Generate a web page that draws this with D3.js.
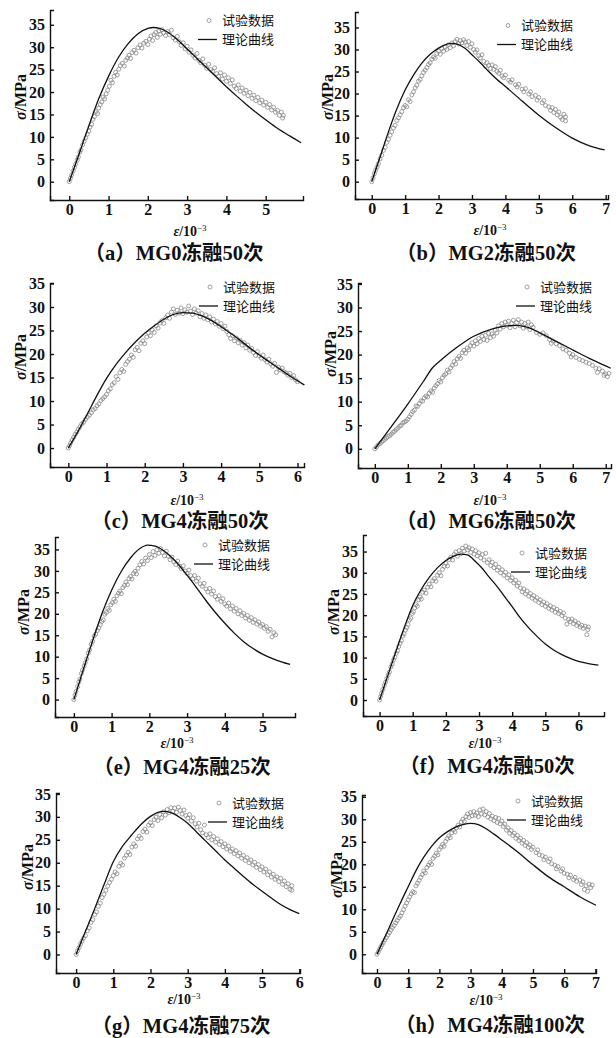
<!DOCTYPE html>
<html>
<head>
<meta charset="utf-8">
<script src="https://cdn.jsdelivr.net/npm/d3@7/dist/d3.min.js"></script>
<style>
body { margin: 0; background: #fff; }
svg { display: block; }
</style>
</head>
<body>
<script>
// ---- data: test points [strain(10^-3), stress(MPa)] and theory curves ----
const dataA = [[0,0],[0.03,0.8],[0.06,1.5],[0.1,2.4],[0.13,3.2],[0.16,3.9],[0.2,4.8],[0.23,5.5],[0.27,6.6],[0.3,7.1],[0.34,8.2],[0.38,9.0],[0.42,9.8],[0.46,10.6],[0.5,11.3],[0.53,12.2],[0.57,12.8],[0.6,13.9],[0.64,14.5],[0.68,15.6],[0.72,15.2],[0.75,16.4],[0.79,17.2],[0.83,17.8],[0.86,18.9],[0.9,18.5],[0.94,19.6],[0.98,20.4],[1.02,21.3],[1.06,22.6],[1.1,22.1],[1.14,23.5],[1.18,24.4],[1.22,23.8],[1.26,25.1],[1.3,25.9],[1.35,26.4],[1.4,25.8],[1.44,27.1],[1.48,27.6],[1.52,28.2],[1.56,27.5],[1.6,28.8],[1.65,29.3],[1.7,28.7],[1.75,29.9],[1.8,30.5],[1.85,29.8],[1.9,30.9],[1.95,31.3],[2.0,30.6],[2.04,31.8],[2.08,32.5],[2.12,31.5],[2.16,32.8],[2.2,33.3],[2.24,32.2],[2.28,33.6],[2.32,32.9],[2.36,33.9],[2.4,33.2],[2.45,32.6],[2.5,33.5],[2.55,32.8],[2.6,33.8],[2.65,32.1],[2.7,31.6],[2.75,32.4],[2.8,31.2],[2.85,30.4],[2.9,31.0],[2.95,29.6],[3.0,30.2],[3.05,28.9],[3.1,29.4],[3.15,28.2],[3.2,27.6],[3.25,28.6],[3.3,27.1],[3.35,26.5],[3.4,27.4],[3.45,26.0],[3.5,25.3],[3.55,26.2],[3.6,25.0],[3.65,24.6],[3.7,25.4],[3.75,24.1],[3.8,23.5],[3.85,24.3],[3.9,22.9],[3.95,23.8],[4.0,22.4],[4.05,23.2],[4.1,21.9],[4.15,22.7],[4.2,21.3],[4.25,20.8],[4.3,21.6],[4.35,20.2],[4.4,20.9],[4.45,19.7],[4.5,20.4],[4.55,19.2],[4.6,19.9],[4.65,18.6],[4.7,19.3],[4.75,18.1],[4.8,18.8],[4.85,17.6],[4.9,18.2],[4.95,17.1],[5.0,17.7],[5.05,16.6],[5.1,17.2],[5.15,16.0],[5.2,16.6],[5.25,15.5],[5.3,15.9],[5.35,14.8],[5.4,15.5],[5.43,14.2],[5.45,14.8]];
const curveA = [[0,0],[0.25,6.2],[0.5,12.5],[0.75,18.5],[1,23.5],[1.25,27.7],[1.5,30.8],[1.75,33],[2,34.2],[2.15,34.4],[2.3,34.2],[2.5,33.4],[2.75,31.7],[3,29.6],[3.25,27.5],[3.5,25.4],[3.75,23.3],[4,21.2],[4.25,19.2],[4.5,17.3],[4.75,15.5],[5,13.8],[5.25,12.2],[5.5,10.8],[5.75,9.5],[5.9,8.7]];

const dataB = [[0,0],[0.04,0.9],[0.08,1.8],[0.12,2.6],[0.16,3.3],[0.2,4.1],[0.25,5.2],[0.3,6.0],[0.35,7.1],[0.4,7.8],[0.45,8.9],[0.5,9.6],[0.55,10.5],[0.6,11.3],[0.65,12.2],[0.7,12.8],[0.75,13.9],[0.8,14.5],[0.85,15.2],[0.9,15.9],[0.95,16.8],[1.0,17.3],[1.05,17.0],[1.1,18.6],[1.15,18.2],[1.2,19.7],[1.25,20.4],[1.3,21.3],[1.35,21.9],[1.4,22.8],[1.45,23.2],[1.5,24.0],[1.55,24.8],[1.6,25.3],[1.65,25.9],[1.7,26.6],[1.75,27.0],[1.8,27.8],[1.85,28.3],[1.9,28.0],[1.95,29.1],[2.0,29.6],[2.05,28.9],[2.1,30.2],[2.15,29.6],[2.2,30.5],[2.25,30.0],[2.3,31.1],[2.35,30.4],[2.4,31.5],[2.45,30.8],[2.5,31.8],[2.55,32.3],[2.6,31.3],[2.65,32.0],[2.7,31.5],[2.75,32.2],[2.8,31.7],[2.85,30.9],[2.9,31.8],[2.95,30.5],[3.0,31.3],[3.05,30.0],[3.1,29.4],[3.15,29.9],[3.2,28.6],[3.25,28.1],[3.3,28.8],[3.35,27.3],[3.4,26.2],[3.45,27.0],[3.5,26.4],[3.55,25.7],[3.6,26.5],[3.65,25.5],[3.7,26.1],[3.75,25.0],[3.8,24.6],[3.85,25.3],[3.9,24.0],[3.95,23.6],[4.0,24.2],[4.1,23.0],[4.15,22.6],[4.2,23.1],[4.3,22.0],[4.35,21.5],[4.4,22.1],[4.5,21.0],[4.55,20.4],[4.6,21.1],[4.7,19.9],[4.75,20.4],[4.8,19.3],[4.9,19.6],[4.95,18.5],[5.0,19.1],[5.1,17.9],[5.15,18.4],[5.2,17.3],[5.3,17.0],[5.35,16.2],[5.4,16.8],[5.45,15.7],[5.5,16.4],[5.55,15.2],[5.6,15.8],[5.65,14.6],[5.7,14.1],[5.75,15.3],[5.8,13.8],[5.8,14.7]];
const curveB = [[0,0],[0.25,5.6],[0.5,11.3],[0.75,16.5],[1,20.8],[1.25,24.2],[1.5,26.9],[1.75,28.9],[2,30.3],[2.25,31.2],[2.4,31.4],[2.6,31.1],[2.8,30.2],[3,28.8],[3.25,27],[3.5,25],[3.75,23.2],[4,21.6],[4.5,18.3],[5,15.1],[5.5,12.3],[6,9.9],[6.5,8.2],[6.97,7.2]];

const dataC = [[0,0],[0.03,0.5],[0.06,1.1],[0.1,1.7],[0.14,2.3],[0.18,2.9],[0.22,3.4],[0.26,4.0],[0.3,4.5],[0.35,5.1],[0.4,5.5],[0.45,6.1],[0.5,6.6],[0.55,7.0],[0.6,7.5],[0.65,8.1],[0.7,8.4],[0.75,9.0],[0.8,9.4],[0.85,10.1],[0.9,10.5],[0.95,10.9],[1.0,11.4],[1.05,12.2],[1.1,12.6],[1.15,13.5],[1.2,13.9],[1.25,15.2],[1.3,14.6],[1.35,16.0],[1.4,16.7],[1.45,16.3],[1.5,17.8],[1.55,18.4],[1.6,18.9],[1.65,19.8],[1.7,19.3],[1.75,20.9],[1.8,21.4],[1.85,20.7],[1.9,22.3],[1.95,22.8],[2.0,22.2],[2.05,23.6],[2.1,24.5],[2.15,23.9],[2.2,25.1],[2.25,24.6],[2.3,26.0],[2.35,25.5],[2.4,26.6],[2.45,27.1],[2.5,26.5],[2.55,27.7],[2.6,28.3],[2.65,27.6],[2.7,28.9],[2.75,29.6],[2.8,28.4],[2.85,29.3],[2.9,28.7],[2.95,29.8],[3.0,28.6],[3.05,29.4],[3.1,28.9],[3.15,30.2],[3.2,29.1],[3.25,28.4],[3.3,29.6],[3.35,28.7],[3.4,29.2],[3.45,27.9],[3.5,28.6],[3.55,27.6],[3.6,28.3],[3.65,27.3],[3.7,27.9],[3.75,26.8],[3.8,27.4],[3.85,26.4],[3.9,26.9],[3.95,25.9],[4.0,26.5],[4.05,25.4],[4.1,25.9],[4.15,24.8],[4.2,24.1],[4.25,23.3],[4.3,23.9],[4.35,22.8],[4.4,23.4],[4.45,22.4],[4.5,22.9],[4.55,21.9],[4.6,22.4],[4.65,21.3],[4.7,21.9],[4.75,20.8],[4.8,21.2],[4.85,20.3],[4.9,19.7],[4.95,20.5],[5.0,19.6],[5.05,19.1],[5.1,19.8],[5.15,18.8],[5.2,18.3],[5.25,18.9],[5.3,17.9],[5.35,17.4],[5.4,18.0],[5.45,16.1],[5.5,17.2],[5.55,16.6],[5.6,17.0],[5.65,16.2],[5.7,16.0],[5.75,15.5],[5.8,15.9],[5.85,15.0],[5.9,15.4],[5.95,14.5],[6.0,14.1]];
const curveC = [[0,0],[0.25,3.5],[0.5,7.3],[0.75,11.2],[1,14.8],[1.25,17.8],[1.5,20.3],[1.75,22.5],[2,24.4],[2.25,26],[2.5,27.4],[2.75,28.4],[3,28.8],[3.25,28.7],[3.5,28.1],[3.75,27.1],[4,25.8],[4.25,24.4],[4.5,22.9],[4.75,21.3],[5,19.8],[5.25,18.4],[5.5,17],[5.75,15.6],[6,14.3],[6.18,13.4]];

const dataD = [[0,0],[0.05,0.4],[0.1,0.8],[0.15,1.1],[0.2,1.4],[0.25,1.7],[0.3,2.0],[0.35,2.3],[0.4,2.6],[0.45,2.8],[0.5,3.1],[0.55,3.5],[0.6,3.7],[0.65,4.1],[0.7,4.4],[0.75,4.8],[0.8,5.0],[0.85,5.5],[0.9,5.7],[0.95,5.9],[1.0,6.3],[1.05,6.8],[1.1,7.3],[1.15,7.9],[1.2,8.2],[1.25,9.1],[1.3,9.0],[1.35,9.6],[1.4,10.2],[1.45,10.1],[1.5,10.8],[1.55,11.2],[1.6,11.0],[1.65,11.8],[1.7,12.3],[1.75,12.0],[1.8,12.9],[1.85,13.4],[1.9,13.8],[1.95,14.5],[2.0,14.2],[2.05,15.1],[2.1,15.6],[2.15,15.9],[2.2,16.7],[2.25,16.3],[2.3,17.2],[2.35,17.7],[2.4,18.5],[2.45,18.0],[2.5,19.1],[2.55,19.6],[2.6,19.2],[2.65,20.4],[2.7,20.9],[2.75,20.3],[2.8,21.4],[2.85,21.0],[2.9,21.9],[2.95,22.5],[3.0,21.8],[3.05,22.9],[3.1,22.3],[3.15,23.4],[3.2,22.8],[3.25,23.9],[3.3,23.2],[3.35,24.1],[3.4,23.0],[3.45,24.5],[3.5,23.6],[3.55,24.4],[3.6,23.9],[3.65,25.2],[3.7,24.6],[3.75,26.1],[3.8,25.4],[3.85,26.6],[3.9,25.9],[3.95,26.9],[4.0,26.2],[4.05,27.1],[4.1,25.7],[4.15,26.6],[4.2,27.3],[4.25,25.9],[4.3,26.8],[4.35,27.4],[4.4,26.1],[4.45,26.9],[4.5,25.6],[4.55,26.6],[4.6,25.9],[4.65,26.9],[4.7,25.3],[4.75,26.3],[4.8,25.8],[4.9,24.7],[5.0,24.3],[5.1,24.6],[5.2,24.0],[5.3,23.2],[5.35,22.4],[5.4,22.9],[5.5,22.3],[5.6,21.9],[5.7,21.2],[5.8,20.9],[5.9,20.3],[5.95,19.5],[6.0,20.0],[6.1,19.4],[6.2,19.0],[6.3,18.7],[6.4,18.4],[6.5,18.1],[6.6,17.7],[6.7,17.1],[6.75,16.2],[6.8,17.0],[6.9,16.5],[6.95,15.6],[7.0,15.9],[7.05,15.3],[7.1,16.0]];
const curveD = [[0,0],[0.5,4.7],[1,9.5],[1.5,14.6],[1.75,17.2],[2,18.8],[2.5,21.6],[3,23.9],[3.5,25.3],[4,26.1],[4.3,26.2],[4.7,25.6],[5,24.6],[5.5,22.8],[6,21],[6.5,19.2],[7,17.6],[7.15,17.1]];

const dataE = [[0,0],[0.03,1.0],[0.06,1.9],[0.1,3.0],[0.13,4.1],[0.16,4.8],[0.2,6.1],[0.23,6.9],[0.27,7.8],[0.3,8.6],[0.34,9.5],[0.38,10.8],[0.42,11.6],[0.46,12.9],[0.5,13.6],[0.54,14.8],[0.58,15.3],[0.62,16.1],[0.66,16.7],[0.7,17.5],[0.74,18.2],[0.78,18.6],[0.82,19.9],[0.86,20.3],[0.9,21.2],[0.94,20.8],[0.98,22.1],[1.02,22.6],[1.06,23.4],[1.1,22.9],[1.14,24.2],[1.18,24.8],[1.22,25.3],[1.26,24.7],[1.3,26.1],[1.34,26.6],[1.38,27.4],[1.42,26.8],[1.46,28.2],[1.5,28.7],[1.54,28.1],[1.58,29.4],[1.62,29.9],[1.66,29.3],[1.7,30.6],[1.75,31.4],[1.8,32.2],[1.85,31.6],[1.9,33.0],[1.95,32.4],[2.0,33.8],[2.05,33.1],[2.1,34.5],[2.15,33.6],[2.2,34.9],[2.25,34.1],[2.3,35.2],[2.35,34.3],[2.4,33.5],[2.45,34.6],[2.5,33.4],[2.55,32.6],[2.6,33.2],[2.65,32.1],[2.7,31.5],[2.75,32.3],[2.8,31.1],[2.85,30.5],[2.9,31.2],[2.95,30.0],[3.0,29.4],[3.05,30.2],[3.1,28.9],[3.15,28.2],[3.2,28.9],[3.25,27.6],[3.3,28.3],[3.35,27.0],[3.4,26.4],[3.45,27.1],[3.5,25.8],[3.55,25.1],[3.6,25.9],[3.65,24.6],[3.7,25.3],[3.75,24.0],[3.8,23.4],[3.85,24.2],[3.9,22.9],[3.95,23.5],[4.0,22.3],[4.05,21.8],[4.1,22.5],[4.15,21.2],[4.2,21.8],[4.25,20.6],[4.3,21.2],[4.35,20.0],[4.4,20.7],[4.45,19.6],[4.5,20.1],[4.55,19.0],[4.6,19.6],[4.65,18.5],[4.7,19.1],[4.75,18.0],[4.8,18.6],[4.85,17.6],[4.9,18.1],[4.95,17.1],[5.0,17.5],[5.05,16.6],[5.1,17.0],[5.15,15.9],[5.2,16.4],[5.25,14.6],[5.3,15.6],[5.35,15.1]];
const curveE = [[0,0],[0.25,7],[0.5,13.8],[0.75,20.2],[1,25.5],[1.25,29.8],[1.5,33],[1.75,35.2],[1.95,36],[2.15,35.8],[2.4,34.6],[2.7,32.2],[3,29],[3.25,26.1],[3.5,23.1],[3.75,20.3],[4,17.8],[4.25,15.5],[4.5,13.5],[4.75,11.9],[5,10.6],[5.25,9.6],[5.5,8.8],[5.73,8.2]];

const dataF = [[0,0],[0.03,0.8],[0.06,1.6],[0.1,2.5],[0.14,3.4],[0.18,4.2],[0.22,5.1],[0.26,5.9],[0.3,6.6],[0.34,7.8],[0.38,8.5],[0.42,9.4],[0.46,10.1],[0.5,11.0],[0.54,11.6],[0.58,12.6],[0.62,13.4],[0.66,14.0],[0.7,15.1],[0.74,15.6],[0.78,16.5],[0.82,17.1],[0.86,17.8],[0.9,18.9],[0.94,19.3],[0.98,20.4],[1.02,20.8],[1.06,21.7],[1.1,22.5],[1.14,22.1],[1.18,23.6],[1.22,24.3],[1.26,23.8],[1.3,25.4],[1.35,25.9],[1.4,25.2],[1.45,26.6],[1.5,27.3],[1.55,26.7],[1.6,28.1],[1.65,28.6],[1.7,28.0],[1.75,29.4],[1.8,30.0],[1.85,29.3],[1.9,30.8],[1.95,31.5],[2.0,32.2],[2.05,31.6],[2.1,33.1],[2.15,33.7],[2.2,33.0],[2.25,34.3],[2.3,34.9],[2.35,33.9],[2.4,35.2],[2.45,34.5],[2.5,35.8],[2.55,35.1],[2.6,36.3],[2.65,35.4],[2.7,35.9],[2.75,34.8],[2.8,35.6],[2.85,34.4],[2.9,35.2],[2.95,34.0],[3.0,34.7],[3.05,33.5],[3.1,34.3],[3.15,33.0],[3.2,34.6],[3.25,32.4],[3.3,33.1],[3.35,31.7],[3.4,32.5],[3.45,31.2],[3.5,32.0],[3.55,30.6],[3.6,31.3],[3.65,30.0],[3.7,30.7],[3.75,29.4],[3.8,30.1],[3.85,28.8],[3.9,29.5],[3.95,28.2],[4.0,28.8],[4.05,27.6],[4.1,28.2],[4.15,26.9],[4.2,27.6],[4.25,26.4],[4.3,25.5],[4.35,26.2],[4.4,25.0],[4.45,25.7],[4.5,24.5],[4.55,25.1],[4.6,24.0],[4.65,24.6],[4.7,23.5],[4.75,24.1],[4.8,23.0],[4.85,23.6],[4.9,22.5],[4.95,23.1],[5.0,22.1],[5.05,22.7],[5.1,21.6],[5.15,22.2],[5.2,21.2],[5.25,21.8],[5.3,20.7],[5.35,21.4],[5.4,20.4],[5.45,20.9],[5.5,19.9],[5.55,20.5],[5.6,19.3],[5.65,17.9],[5.7,19.0],[5.75,18.5],[5.8,19.1],[5.85,18.0],[5.9,18.6],[5.95,17.6],[6.0,18.1],[6.05,17.2],[6.1,17.6],[6.15,16.9],[6.2,17.4],[6.25,15.4],[6.28,16.6],[6.3,17.2]];
const curveF = [[0,0],[0.25,5.8],[0.5,11.6],[0.75,17.2],[1,22.3],[1.25,26],[1.5,28.9],[1.75,31.2],[2,32.9],[2.25,34],[2.45,34.4],[2.65,34.2],[2.9,32.6],[3.1,31],[3.25,29.5],[3.5,27.2],[3.75,24.6],[4,22],[4.25,19.3],[4.5,17],[4.75,15],[5,13.2],[5.25,11.8],[5.5,10.7],[5.75,9.8],[6,9.1],[6.3,8.6],[6.6,8.2]];

const dataG = [[0,0],[0.04,0.8],[0.08,1.5],[0.12,2.3],[0.16,2.9],[0.2,3.6],[0.25,4.1],[0.3,5.2],[0.35,5.8],[0.4,7.0],[0.45,7.6],[0.5,8.7],[0.55,9.3],[0.6,10.5],[0.65,11.2],[0.7,12.4],[0.75,13.1],[0.8,14.0],[0.85,14.9],[0.9,15.7],[0.95,16.4],[1.0,17.2],[1.05,18.0],[1.1,17.6],[1.15,19.2],[1.2,19.9],[1.25,19.5],[1.3,21.0],[1.35,21.6],[1.4,22.3],[1.45,21.8],[1.5,23.4],[1.55,24.1],[1.6,23.6],[1.65,25.2],[1.7,25.8],[1.75,25.3],[1.8,26.8],[1.85,27.3],[1.9,26.7],[1.95,28.2],[2.0,28.7],[2.05,28.1],[2.1,29.4],[2.15,29.9],[2.2,29.2],[2.25,30.5],[2.3,29.8],[2.35,31.1],[2.4,30.4],[2.45,31.6],[2.5,30.9],[2.55,32.0],[2.6,31.2],[2.65,31.9],[2.7,31.0],[2.75,32.1],[2.8,31.4],[2.85,30.6],[2.9,31.5],[2.95,30.3],[3.0,29.7],[3.05,30.5],[3.1,29.1],[3.15,29.8],[3.2,28.5],[3.25,27.8],[3.3,28.6],[3.35,27.2],[3.4,26.5],[3.45,28.2],[3.5,26.1],[3.55,25.5],[3.6,26.3],[3.65,25.0],[3.7,25.7],[3.75,24.5],[3.8,25.2],[3.85,24.0],[3.9,24.6],[3.95,23.5],[4.0,24.1],[4.05,23.0],[4.1,23.6],[4.15,22.5],[4.2,23.0],[4.25,22.0],[4.3,22.6],[4.35,21.5],[4.4,22.1],[4.45,21.0],[4.5,21.6],[4.55,20.5],[4.6,21.1],[4.65,20.0],[4.7,20.6],[4.75,19.5],[4.8,20.1],[4.85,19.0],[4.9,19.6],[4.95,18.5],[5.0,19.1],[5.05,18.0],[5.1,18.6],[5.15,17.4],[5.2,18.0],[5.25,16.9],[5.3,17.5],[5.35,16.4],[5.4,16.9],[5.45,15.9],[5.5,16.6],[5.55,15.3],[5.6,16.0],[5.65,14.8],[5.7,15.4],[5.75,14.2],[5.8,15.0],[5.8,14.0]];
const curveG = [[0,0],[0.25,5],[0.5,10],[0.75,15.2],[1,20.2],[1.25,23.6],[1.5,26.1],[1.75,28.4],[2,30.1],[2.2,31],[2.35,31.2],[2.55,30.9],[2.8,29.8],[3,28.6],[3.25,26.6],[3.5,24.6],[3.75,22.6],[4,20.6],[4.25,18.8],[4.5,17],[4.75,15.3],[5,13.8],[5.25,12.3],[5.5,10.9],[5.75,9.8],[6,8.9]];

const dataH = [[0,0],[0.04,0.5],[0.08,1.1],[0.12,1.6],[0.16,2.1],[0.2,2.6],[0.25,3.2],[0.3,3.7],[0.35,4.3],[0.4,4.8],[0.45,5.4],[0.5,5.9],[0.55,6.4],[0.6,7.0],[0.65,7.5],[0.7,8.1],[0.75,8.5],[0.8,9.2],[0.85,9.9],[0.9,10.7],[0.95,11.4],[1.0,12.1],[1.05,12.8],[1.1,13.4],[1.15,13.9],[1.2,13.7],[1.25,15.2],[1.3,15.8],[1.35,16.4],[1.4,17.1],[1.45,17.7],[1.5,18.5],[1.55,18.1],[1.6,19.3],[1.65,19.8],[1.7,20.4],[1.75,20.0],[1.8,21.3],[1.85,21.8],[1.9,22.5],[1.95,22.1],[2.0,23.3],[2.05,23.8],[2.1,24.4],[2.15,24.0],[2.2,25.1],[2.25,25.7],[2.3,26.3],[2.35,25.9],[2.4,27.0],[2.45,27.6],[2.5,27.2],[2.55,28.1],[2.6,28.7],[2.65,28.3],[2.7,29.4],[2.75,30.0],[2.8,29.5],[2.85,30.6],[2.9,31.2],[2.95,30.4],[3.0,31.5],[3.05,30.8],[3.1,31.7],[3.15,30.9],[3.2,31.4],[3.25,30.6],[3.3,32.1],[3.35,31.2],[3.4,32.3],[3.45,31.0],[3.5,31.7],[3.55,30.5],[3.6,31.3],[3.65,30.1],[3.7,30.7],[3.75,29.7],[3.8,30.4],[3.85,29.3],[3.9,30.2],[3.95,29.0],[4.0,29.6],[4.05,28.4],[4.1,28.9],[4.15,27.6],[4.2,28.1],[4.25,26.9],[4.3,27.5],[4.35,26.4],[4.4,26.9],[4.45,25.8],[4.5,26.4],[4.55,25.3],[4.6,25.8],[4.65,24.7],[4.7,25.3],[4.75,24.2],[4.8,24.8],[4.85,23.8],[4.9,24.3],[4.95,23.3],[5.0,23.8],[5.1,22.6],[5.15,23.2],[5.2,22.1],[5.3,21.9],[5.35,21.0],[5.4,21.6],[5.5,20.6],[5.55,21.2],[5.6,20.1],[5.7,19.8],[5.75,19.0],[5.8,19.5],[5.9,18.5],[5.95,19.0],[6.0,18.0],[6.1,17.8],[6.15,17.0],[6.2,17.6],[6.3,16.6],[6.35,17.1],[6.4,16.2],[6.5,16.5],[6.55,15.5],[6.6,16.1],[6.65,14.4],[6.7,15.2],[6.75,14.0],[6.8,15.6],[6.85,14.8],[6.9,15.4]];
const curveH = [[0,0],[0.25,3.8],[0.5,7.6],[0.75,11.4],[1,15],[1.25,18.6],[1.5,21.6],[1.75,24],[2,25.9],[2.25,27.2],[2.5,28.2],[2.75,28.8],[3,29.1],[3.25,28.8],[3.5,27.9],[3.75,26.7],[4,25.4],[4.5,22.8],[5,19.9],[5.5,17.2],[6,15],[6.5,12.8],[7.02,10.9]];

const captions = ["（a）MG0冻融50次","（b）MG2冻融50次","（c）MG4冻融50次","（d）MG6冻融50次",
                  "（e）MG4冻融25次","（f）MG4冻融50次","（g）MG4冻融75次","（h）MG4冻融100次"];
const yTickValues = [0,5,10,15,20,25,30,35];
const legendLabels = ["试验数据","理论曲线"];

// ---- layout of each panel (pixels) ----
var panels = [
  {pts:dataA, cur:curveA, box:[50,10,303,200],   xd:[-0.49,5.95], yd:[-4.08,38.3], xmax:5, yl:[20,97],  xl:[190,231],  cap:[174,253],  lg:[222,20.5]},
  {pts:dataB, cur:curveB, box:[355,12,608,199],  xd:[-0.5,7.07],  yd:[-3.92,38.5], xmax:7, yl:[327,97], xl:[490,230],  cap:[486,253],  lg:[521,25.5]},
  {pts:dataC, cur:curveC, box:[50,283,304,467],  xd:[-0.48,6.17], yd:[-4.03,35.1], xmax:6, yl:[20,357], xl:[187,500],  cap:[180,521],  lg:[223,287]},
  {pts:dataD, cur:curveD, box:[358,283,611,468], xd:[-0.51,7.16], yd:[-4.08,35.2], xmax:7, yl:[330,354],xl:[490,500],  cap:[486,521],  lg:[540,287]},
  {pts:dataE, cur:curveE, box:[55,537,295,717],  xd:[-0.5,5.86],  yd:[-4.06,37.9], xmax:5, yl:[23,612], xl:[177,743],  cap:[182,767],  lg:[218,545]},
  {pts:dataF, cur:curveF, box:[363,535,604,716], xd:[-0.5,6.77],  yd:[-3.77,38.9], xmax:6, yl:[333,612],xl:[485,743],  cap:[487,766],  lg:[535,553]},
  {pts:dataG, cur:curveG, box:[56,793,300,973],  xd:[-0.54,6.02], yd:[-4.03,35.2], xmax:6, yl:[27,867], xl:[184,999],  cap:[181,1026], lg:[232,803]},
  {pts:dataH, cur:curveH, box:[362,795,596,973], xd:[-0.48,7.02], yd:[-4.16,35.4], xmax:7, yl:[336,875],xl:[486,1000], cap:[490,1025], lg:[531,801]}
];

var serif = "'Liberation Serif','Times New Roman',serif";
var cjk = "'Liberation Serif','Noto Sans CJK SC',sans-serif";
var rowGap = 19;

var svg = d3.select("body").append("svg").attr("width", 616).attr("height", 1038);

panels.forEach(function(p, i) {
  var L = p.box[0], T = p.box[1], R = p.box[2], B = p.box[3];
  var x = d3.scaleLinear().domain(p.xd).range([L, R]);
  var y = d3.scaleLinear().domain(p.yd).range([B, T]);
  var g = svg.append("g");

  // axes, ticks pointing inward
  var xAxis = d3.axisBottom(x).tickValues(d3.range(0, p.xmax + 1)).tickFormat(d3.format("d"))
    .tickSize(-4).tickSizeOuter(-4).tickPadding(4);
  var yAxis = d3.axisLeft(y).tickValues(yTickValues).tickFormat(d3.format("d"))
    .tickSize(-4).tickSizeOuter(-4).tickPadding(5);
  var gx = g.append("g").attr("transform", "translate(0," + B + ")").call(xAxis);
  var gy = g.append("g").attr("transform", "translate(" + L + ",0)").call(yAxis);
  [gx, gy].forEach(function(a) {
    a.selectAll("path,line").attr("stroke", "#111").attr("stroke-width", 1.4);
    a.selectAll("text").attr("font-family", serif).attr("font-weight", "bold")
      .attr("font-size", 16).attr("fill", "#111");
  });

  // test data
  g.append("g").selectAll("circle").data(p.pts).enter().append("circle")
    .attr("cx", d => x(d[0])).attr("cy", d => y(d[1])).attr("r", 2)
    .attr("fill", "none").attr("stroke", "#888").attr("stroke-width", 0.8);

  // theory curve
  var line = d3.line().x(d => x(d[0])).y(d => y(d[1])).curve(d3.curveMonotoneX);
  g.append("path").attr("d", line(p.cur)).attr("fill", "none")
    .attr("stroke", "#111").attr("stroke-width", 1.3);

  // legend
  var lx = p.lg[0], ly1 = p.lg[1], ly2 = p.lg[1] + rowGap;
  g.append("circle").attr("cx", lx - 13).attr("cy", ly1).attr("r", 2)
    .attr("fill", "none").attr("stroke", "#888").attr("stroke-width", 0.8);
  g.append("line").attr("x1", lx - 24).attr("x2", lx - 5).attr("y1", ly2).attr("y2", ly2)
    .attr("stroke", "#111").attr("stroke-width", 1.3);
  [ly1, ly2].forEach(function(ly, k) {
    g.append("text").attr("x", lx).attr("y", ly).attr("dy", "0.35em")
      .attr("font-family", "'Noto Sans CJK SC',sans-serif").attr("font-size", 13)
      .attr("fill", "#111").text(legendLabels[k]);
  });

  // y label  σ/MPa
  var ty = g.append("text").attr("transform", "translate(" + p.yl[0] + "," + p.yl[1] + ") rotate(-90)")
    .attr("text-anchor", "middle").attr("dy", "0.35em")
    .attr("font-family", serif).attr("font-weight", "bold").attr("font-size", 16).attr("fill", "#111");
  ty.append("tspan").attr("font-style", "italic").text("σ");
  ty.append("tspan").text("/MPa");

  // x label  ε/10^-3
  var tx = g.append("text").attr("x", p.xl[0]).attr("y", p.xl[1]).attr("dy", "0.35em")
    .attr("text-anchor", "middle").attr("font-family", serif).attr("font-weight", "bold")
    .attr("font-size", 14).attr("fill", "#111");
  tx.append("tspan").attr("font-style", "italic").text("ε");
  tx.append("tspan").text("/10");
  tx.append("tspan").attr("font-size", 9).attr("font-weight", "normal").attr("dy", -5).text("−3");

  // caption
  g.append("text").attr("x", p.cap[0]).attr("y", p.cap[1]).attr("dy", "0.35em")
    .attr("text-anchor", "middle").attr("font-family", cjk).attr("font-weight", "bold")
    .attr("font-size", 20.5).attr("fill", "#111").text(captions[i]);
});
</script>
</body>
</html>
